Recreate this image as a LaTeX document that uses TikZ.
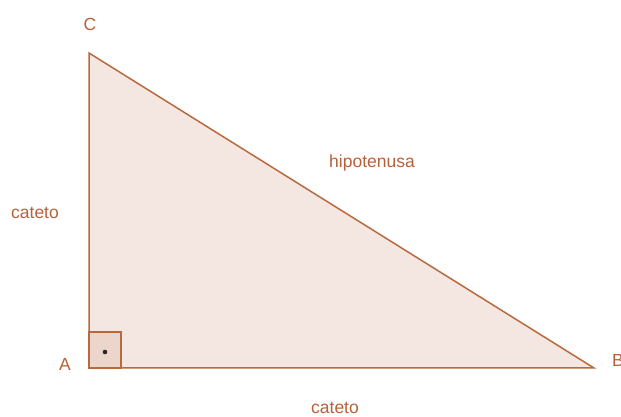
\documentclass[tikz,border=0pt]{standalone}
\usepackage{fontspec}
\setmainfont{Liberation Sans}
\definecolor{edge}{HTML}{B8693E}
\definecolor{fillc}{HTML}{F4E7E2}
\definecolor{boxc}{HTML}{ECD6CC}
\definecolor{txt}{HTML}{B5623A}
\begin{document}
\begin{tikzpicture}[x=1pt,y=1pt,
  lbl/.style={text=txt,font=\fontsize{17.5}{20}\selectfont,inner sep=0pt}]
\useasboundingbox (0,0) rectangle (621,417);
\coordinate (A) at (89,49);
\coordinate (B) at (594,49);
\coordinate (C) at (89,364);
\fill[fillc] (A) -- (B) -- (C) -- cycle;
\draw[edge,line width=1.5pt,fill=boxc] (A) rectangle (121,85);
\draw[edge,line width=1.5pt,line join=miter] (A) -- (B) -- (C) -- cycle;
\fill[black!85] (105,65) circle (2.3);
\node[lbl] (la) at (65,53) {A};
\node[lbl] (lb) at (618,57) {B};
\node[lbl] (lc) at (90,393) {C};
\node[lbl] (c1) at (35,204) {cateto};
\node[lbl] (c2) at (335,9) {cateto};
\node[lbl] (h) at (372,254) {hipotenusa};
\end{tikzpicture}
\end{document}
